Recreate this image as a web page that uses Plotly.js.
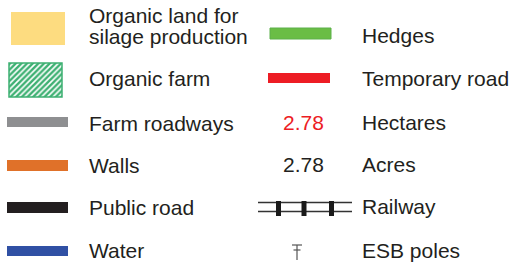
<!DOCTYPE html>
<html>
<head>
<meta charset="utf-8">
<script src="https://cdn.plot.ly/plotly-3.0.1.min.js"></script>
<style>html,body{margin:0;padding:0;background:#fff;}#chart{width:526px;height:266px;}</style>
</head>
<body>
<div id="chart"></div>
<script>
// Legend content
var leftLabels = ["Organic land for", "silage production", "Organic farm", "Farm roadways", "Walls", "Public road", "Water"];
var leftColors = ["#FDDC80", "#3DB072", "#8E8F91", "#E07129", "#231F20", "#3050A4"];
var rightLabels = ["Hedges", "Temporary road", "Hectares", "Acres", "Railway", "ESB poles"];
var rightColors = ["#6ABD45", "#ED1C24"];
var numberLabels = ["2.78", "2.78"];
var numberColors = ["#ED1C24", "#231F20"];

var textColor = "#231F20";
var fontFam = "Liberation Sans, Arial, Helvetica, sans-serif";
var fs = 21;

// layout positions (pixel-like axis units)
var leftTextY = [15.5, 36.5, 78.5, 123, 165, 207, 250];
var rightTextY = [35.5, 78, 122, 164.5, 206.5, 250];
var numberY = [122, 164.5];

var annotations = [];
leftLabels.forEach(function (t, i) {
  annotations.push({x: 87, y: leftTextY[i], xref: 'x', yref: 'y', text: t, showarrow: false,
    xanchor: 'left', yanchor: 'middle', font: {family: fontFam, size: fs, color: textColor}});
});
rightLabels.forEach(function (t, i) {
  annotations.push({x: 360, y: rightTextY[i], xref: 'x', yref: 'y', text: t, showarrow: false,
    xanchor: 'left', yanchor: 'middle', font: {family: fontFam, size: fs, color: textColor}});
});
numberLabels.forEach(function (t, i) {
  annotations.push({x: 281, y: numberY[i], xref: 'x', yref: 'y', text: t, showarrow: false,
    xanchor: 'left', yanchor: 'middle', font: {family: fontFam, size: fs, color: numberColors[i]}});
});

var shapes = [];
function rect(x0, y0, x1, y1, fill, lineColor) {
  shapes.push({type: 'rect', xref: 'x', yref: 'y', x0: x0, y0: y0, x1: x1, y1: y1,
    fillcolor: fill, line: {color: lineColor || fill, width: lineColor ? 1 : 0}, layer: 'above'});
}
function seg(x0, y0, x1, y1, color, w) {
  shapes.push({type: 'line', xref: 'x', yref: 'y', x0: x0, y0: y0, x1: x1, y1: y1,
    line: {color: color, width: w}, layer: 'above'});
}
// Left column swatches
rect(11, 12, 65, 45, leftColors[0]);
rect(7, 117, 68, 127, leftColors[2]);
rect(7, 160, 68, 171, leftColors[3]);
rect(7, 202, 68, 213, leftColors[4]);
rect(7, 246, 68, 256, leftColors[5]);
// Right column swatches
rect(270, 28, 331, 39, rightColors[0], "#5DB04A");
rect(268, 73, 330, 83, rightColors[1]);
// Railway
seg(258, 202.5, 352, 202.5, "#333333", 1.5);
seg(258, 211.5, 352, 211.5, "#333333", 1.5);
[278.5, 304, 331.5].forEach(function (cx) {
  rect(cx - 2.5, 201, cx + 2.5, 216, "#1a1a1a");
});
// ESB pole symbol
seg(292, 245, 302, 245, "#555555", 1.2);
seg(293.5, 250, 300.5, 250, "#555555", 1.2);
seg(297, 245, 297, 260, "#555555", 1.2);

// Hatched "Organic farm" swatch as a patterned bar
var traces = [{
  type: 'bar', x: [35.5], y: [34], base: [63], width: [53],
  marker: {color: '#ffffff', line: {color: leftColors[1], width: 1.5},
    pattern: {shape: '/', fgcolor: leftColors[1], bgcolor: '#ffffff', size: 4, solidity: 0.6}},
  hoverinfo: 'skip', showlegend: false
}];

var layout = {
  width: 526, height: 266,
  margin: {l: 0, r: 0, t: 0, b: 0},
  paper_bgcolor: '#ffffff', plot_bgcolor: '#ffffff',
  xaxis: {range: [0, 526], visible: false, fixedrange: true},
  yaxis: {range: [266, 0], visible: false, fixedrange: true},
  showlegend: false,
  annotations: annotations,
  shapes: shapes
};
Plotly.newPlot('chart', traces, layout, {staticPlot: true, displayModeBar: false});
</script>
</body>
</html>
